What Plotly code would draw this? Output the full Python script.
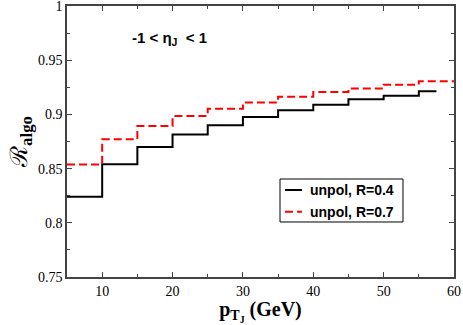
import plotly.graph_objects as go

# bin edges (GeV) and step values
edges_r04 = [5, 10, 15, 20, 25, 30, 35, 40, 45, 50, 55, 57.5]
ralgo_r04 = [0.824, 0.854, 0.870, 0.8815, 0.890, 0.8975, 0.9038, 0.909, 0.914, 0.9173, 0.9213]

edges_r07 = [5, 10, 15, 20, 25, 30, 35, 40, 45, 50, 55, 60]
ralgo_r07 = [0.8537, 0.877, 0.8893, 0.8985, 0.9053, 0.911, 0.9163, 0.9207, 0.924, 0.9274, 0.9305]

labels = ["unpol, R=0.4", "unpol, R=0.7"]

serif = "Liberation Serif"
sans = "Liberation Sans"

fig = go.Figure()
fig.add_trace(go.Scatter(
    x=edges_r04, y=ralgo_r04 + [ralgo_r04[-1]],
    mode="lines", line=dict(color="black", width=2, shape="hv"),
    name=labels[0], showlegend=False
))
fig.add_trace(go.Scatter(
    x=edges_r07, y=ralgo_r07 + [ralgo_r07[-1]],
    mode="lines", line=dict(color="red", width=2, shape="hv", dash="8px,4px"),
    name=labels[1], showlegend=False
))

axis_common = dict(
    showline=True, linecolor="#444", linewidth=1.5, mirror="allticks",
    ticks="inside", ticklen=5, tickcolor="#444", showgrid=False, zeroline=False,
    tickfont=dict(family=serif, size=14, color="black"), automargin=False,
    ticklabeloverflow="allow",
)

fig.update_xaxes(
    range=[5, 60], tickvals=[10, 20, 30, 40, 50, 60],
    minor=dict(tickvals=[15, 25, 35, 45, 55], ticks="inside", ticklen=3, tickcolor="#444"),
    title=dict(text="<b>p<sub>T<sub>J</sub></sub> (GeV)</b>", font=dict(family=serif, size=20, color="black"),
               standoff=0),
    **axis_common
)
fig.update_yaxes(
    range=[0.75, 1.0], tickvals=[0.75, 0.8, 0.85, 0.9, 0.95, 1],
    ticktext=["0.75", "0.8", "0.85", "0.9", "0.95", "1"],
    minor=dict(tickvals=[0.775, 0.825, 0.875, 0.925, 0.975], ticks="inside", ticklen=3, tickcolor="#444"),
    title=dict(text="ℛ<sub><b>algo</b></sub>", font=dict(family=serif, size=24, color="black"),
               standoff=4),
    **axis_common
)

fig.add_annotation(
    x=19.5, y=0.9696, xref="x", yref="y", xanchor="center", yanchor="middle",
    text="<b>-1 &lt; η<sub>J</sub>  &lt; 1</b>", showarrow=False,
    font=dict(family=sans, size=15, color="black")
)

# hand-drawn legend box, like the original
fig.add_shape(type="rect", xref="paper", yref="paper", x0=0.5504, x1=0.8682, y0=0.203, y1=0.3616,
              line=dict(color="black", width=1), fillcolor="white", layer="above")
fig.add_shape(type="line", xref="paper", yref="paper", x0=0.5633, x1=0.6072, y0=0.321, y1=0.321,
              line=dict(color="black", width=2), layer="above")
fig.add_shape(type="line", xref="paper", yref="paper", x0=0.5633, x1=0.6072, y0=0.241, y1=0.241,
              line=dict(color="red", width=2, dash="8px,4px"), layer="above")
for lab, yy in zip(labels, [0.321, 0.241]):
    fig.add_annotation(x=0.6227, y=yy, xref="paper", yref="paper", xanchor="left", yanchor="middle",
                       text="<b>" + lab + "</b>", showarrow=False,
                       font=dict(family=sans, size=14, color="black"))

fig.update_layout(
    width=463, height=325,
    margin=dict(l=67, r=9, t=6, b=48),
    plot_bgcolor="white", paper_bgcolor="white",
    showlegend=False,
)

fig.write_html("out.html", config={"displayModeBar": False},
               post_script="document.body.style.margin='0px';")
